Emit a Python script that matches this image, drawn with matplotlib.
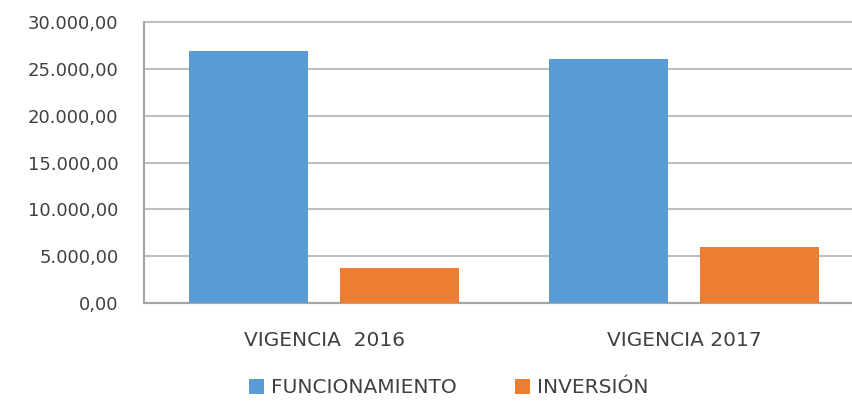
import matplotlib.pyplot as plt
from matplotlib.ticker import FuncFormatter
import numpy as np

categorias = ['VIGENCIA  2016', 'VIGENCIA 2017']
funcionamiento = [26900, 26050]
inversion = [3740, 5980]
series = ['FUNCIONAMIENTO', 'INVERSIÓN']

plt.rcParams['font.family'] = ['DejaVu Sans']

fig = plt.figure(figsize=(8.53, 4.01), dpi=100)
ax = fig.add_axes([0.169, 0.2444, 0.831, 0.7006])

x = np.arange(len(categorias))
ax.bar(x - 0.21, funcionamiento, 0.33, color='#5B9BD5', label=series[0], zorder=3)
ax.bar(x + 0.21, inversion, 0.33, color='#ED7D31', label=series[1], zorder=3)

ax.set_xlim(-0.5, 1.469)
ax.set_ylim(0, 30000)
ax.set_yticks(range(0, 30001, 5000))
ax.yaxis.set_major_formatter(FuncFormatter(
    lambda v, p: f'{v:,.2f}'.replace(',', 'X').replace('.', ',').replace('X', '.')))
ax.set_xticks(x)
ax.set_xticklabels(categorias, fontsize=14.5, color='#404040')
ax.tick_params(axis='y', labelsize=13, colors='#404040', length=0, pad=18.5)
ax.tick_params(axis='x', length=0, pad=20)
ax.grid(axis='y', color='#BFBFBF', linewidth=1.5, zorder=0)
for gl in ax.get_ygridlines():
    gl.set_clip_on(False)
for s in ['top', 'right']:
    ax.spines[s].set_visible(False)
for s in ['left', 'bottom']:
    ax.spines[s].set_color('#A6A6A6')
    ax.spines[s].set_linewidth(1.5)

fig.legend(loc='center', bbox_to_anchor=(0.526, 0.033), ncol=2, frameon=False,
           fontsize=14.5, handlelength=0.75, handleheight=0.75, columnspacing=2.9,
           handletextpad=0.35, labelcolor='#404040')

fig.savefig('out.png', dpi=100)
